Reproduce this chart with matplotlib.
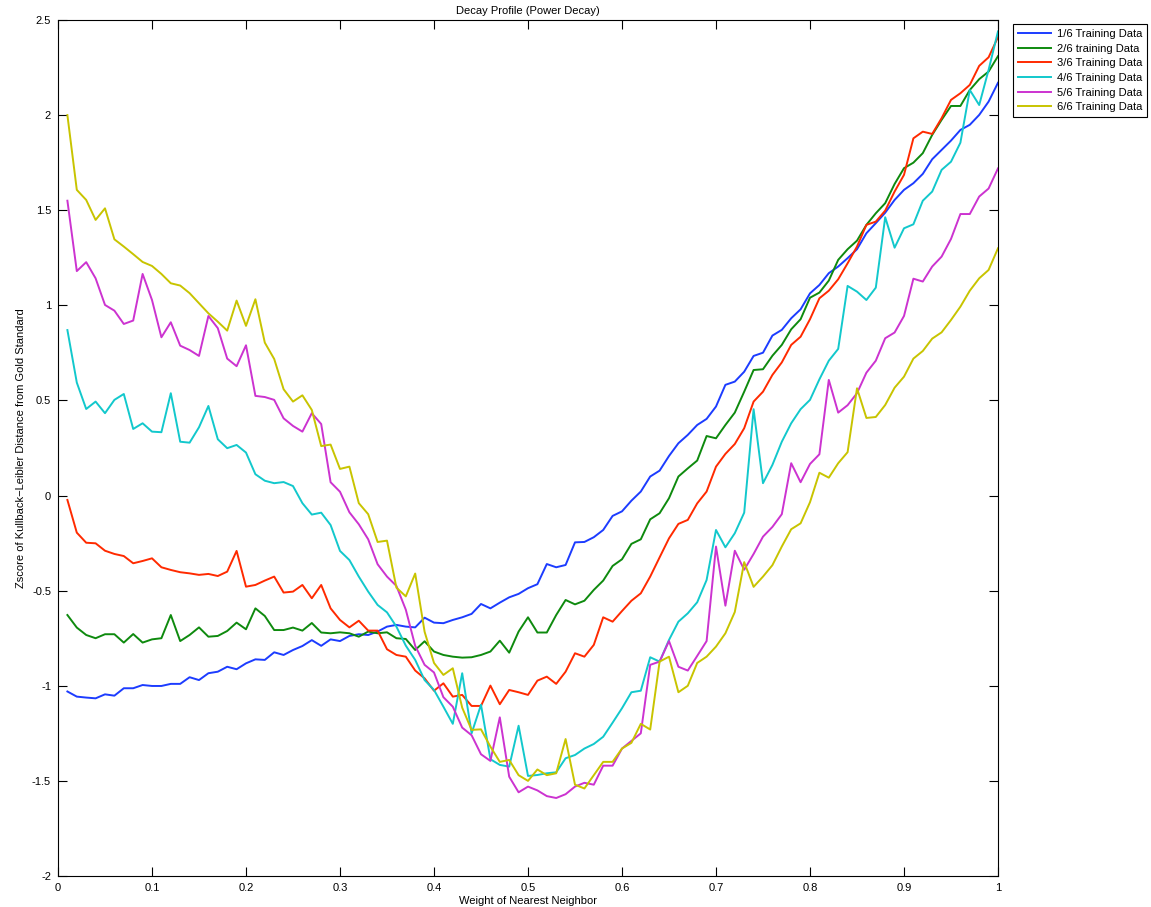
import numpy as np
import matplotlib
matplotlib.use("Agg")
import matplotlib.pyplot as plt

plt.rcParams['font.family'] = ['Liberation Sans', 'DejaVu Sans']

# weight of nearest neighbour, 0.01 .. 1.00
weights = np.round(np.linspace(0.01, 1.0, 100), 2)

labels = ['1/6 Training Data', '2/6 training Data', '3/6 Training Data',
          '4/6 Training Data', '5/6 Training Data', '6/6 Training Data']

frac_1of6 = [
    -1.03, -1.057, -1.062, -1.066, -1.045, -1.052, -1.013, -1.013, -0.996, -1.001,
    -1.001, -0.99, -0.99, -0.955, -0.97, -0.934, -0.926, -0.90, -0.913, -0.882,
    -0.861, -0.864, -0.824, -0.838, -0.812, -0.791, -0.76, -0.79, -0.756, -0.765,
    -0.738, -0.729, -0.733, -0.715, -0.689, -0.68, -0.689, -0.693, -0.642, -0.668,
    -0.671, -0.654, -0.64, -0.622, -0.57, -0.593, -0.563, -0.535, -0.517, -0.487,
    -0.466, -0.36, -0.377, -0.365, -0.246, -0.244, -0.219, -0.181, -0.107, -0.083,
    -0.027, 0.021, 0.10, 0.131, 0.208, 0.275, 0.319, 0.371, 0.403, 0.468,
    0.582, 0.599, 0.651, 0.734, 0.751, 0.841, 0.871, 0.932, 0.979, 1.063,
    1.107, 1.169, 1.204, 1.248, 1.295, 1.379, 1.432, 1.487, 1.554, 1.607,
    1.642, 1.691, 1.768, 1.817, 1.866, 1.922, 1.949, 2.001, 2.071, 2.17]

frac_2of6 = [
    -0.628, -0.694, -0.733, -0.75, -0.729, -0.729, -0.773, -0.728, -0.773, -0.756,
    -0.75, -0.628, -0.765, -0.733, -0.693, -0.742, -0.738, -0.712, -0.668, -0.703,
    -0.593, -0.633, -0.707, -0.707, -0.694, -0.71, -0.67, -0.72, -0.724, -0.719,
    -0.724, -0.742, -0.715, -0.724, -0.719, -0.75, -0.754, -0.812, -0.766, -0.82,
    -0.838, -0.847, -0.852, -0.85, -0.838, -0.82, -0.763, -0.826, -0.715, -0.64,
    -0.72, -0.72, -0.628, -0.549, -0.572, -0.553, -0.496, -0.447, -0.37, -0.335,
    -0.254, -0.23, -0.125, -0.093, -0.014, 0.10, 0.143, 0.184, 0.313, 0.301,
    0.371, 0.436, 0.546, 0.66, 0.664, 0.735, 0.792, 0.874, 0.927, 1.04,
    1.067, 1.13, 1.239, 1.295, 1.34, 1.423, 1.484, 1.537, 1.638, 1.721,
    1.75, 1.80, 1.896, 1.975, 2.048, 2.048, 2.132, 2.189, 2.229, 2.31]

frac_3of6 = [
    -0.023, -0.195, -0.248, -0.251, -0.29, -0.307, -0.318, -0.356, -0.344, -0.33,
    -0.377, -0.391, -0.403, -0.409, -0.417, -0.412, -0.423, -0.40, -0.291, -0.479,
    -0.47, -0.447, -0.426, -0.51, -0.505, -0.47, -0.54, -0.47, -0.593, -0.654,
    -0.693, -0.658, -0.71, -0.71, -0.808, -0.838, -0.847, -0.92, -0.961, -1.026,
    -0.987, -1.057, -1.048, -1.106, -1.106, -0.999, -1.097, -1.022, -1.034, -1.048,
    -0.973, -0.952, -0.99, -0.926, -0.829, -0.847, -0.785, -0.64, -0.663, -0.607,
    -0.553, -0.514, -0.426, -0.325, -0.225, -0.149, -0.128, -0.041, 0.021, 0.152,
    0.219, 0.271, 0.354, 0.494, 0.546, 0.634, 0.70, 0.792, 0.835, 0.927,
    1.037, 1.077, 1.137, 1.221, 1.309, 1.423, 1.44, 1.498, 1.598, 1.686,
    1.878, 1.913, 1.901, 1.984, 2.08, 2.115, 2.159, 2.259, 2.304, 2.41]

frac_4of6 = [
    0.87, 0.594, 0.455, 0.494, 0.433, 0.503, 0.534, 0.35, 0.38, 0.336,
    0.333, 0.538, 0.283, 0.278, 0.359, 0.471, 0.296, 0.249, 0.266, 0.226,
    0.112, 0.078, 0.065, 0.071, 0.05, -0.04, -0.10, -0.09, -0.155, -0.291,
    -0.339, -0.426, -0.505, -0.575, -0.614, -0.689, -0.789, -0.864, -0.97, -1.022,
    -1.11, -1.20, -0.934, -1.25, -1.10, -1.386, -1.416, -1.425, -1.21, -1.474,
    -1.469, -1.46, -1.455, -1.381, -1.364, -1.33, -1.306, -1.268, -1.194, -1.118,
    -1.034, -1.026, -0.85, -0.873, -0.759, -0.663, -0.619, -0.561, -0.444, -0.181,
    -0.272, -0.198, -0.09, 0.454, 0.065, 0.161, 0.283, 0.38, 0.454, 0.503,
    0.611, 0.709, 0.771, 1.102, 1.072, 1.028, 1.093, 1.463, 1.303, 1.405,
    1.426, 1.55, 1.598, 1.712, 1.755, 1.855, 2.132, 2.053, 2.238, 2.44]

frac_5of6 = [
    1.55, 1.18, 1.227, 1.142, 1.002, 0.972, 0.902, 0.92, 1.165, 1.028,
    0.832, 0.911, 0.788, 0.765, 0.734, 0.944, 0.88, 0.72, 0.68, 0.79,
    0.524, 0.518, 0.503, 0.406, 0.366, 0.336, 0.433, 0.376, 0.07, 0.02,
    -0.088, -0.151, -0.23, -0.361, -0.426, -0.475, -0.60, -0.79, -0.89, -0.93,
    -1.06, -1.11, -1.22, -1.26, -1.36, -1.395, -1.166, -1.478, -1.56, -1.53,
    -1.55, -1.58, -1.59, -1.57, -1.53, -1.51, -1.52, -1.42, -1.42, -1.33,
    -1.29, -1.25, -0.89, -0.873, -0.765, -0.90, -0.92, -0.843, -0.765, -0.268,
    -0.579, -0.29, -0.39, -0.307, -0.216, -0.165, -0.098, 0.17, 0.07, 0.166,
    0.217, 0.608, 0.436, 0.475, 0.538, 0.646, 0.709, 0.827, 0.857, 0.944,
    1.14, 1.125, 1.204, 1.256, 1.349, 1.48, 1.48, 1.572, 1.614, 1.72]

frac_6of6 = [
    2.0, 1.607, 1.554, 1.449, 1.51, 1.347, 1.309, 1.269, 1.228, 1.207,
    1.165, 1.116, 1.104, 1.064, 1.011, 0.958, 0.914, 0.867, 1.025, 0.892,
    1.032, 0.804, 0.718, 0.559, 0.494, 0.527, 0.45, 0.26, 0.268, 0.14,
    0.152, -0.04, -0.098, -0.244, -0.237, -0.484, -0.53, -0.41, -0.716, -0.88,
    -0.943, -0.908, -1.115, -1.232, -1.229, -1.32, -1.40, -1.39, -1.47, -1.50,
    -1.44, -1.47, -1.46, -1.28, -1.52, -1.54, -1.47, -1.40, -1.40, -1.33,
    -1.30, -1.20, -1.23, -0.873, -0.847, -1.034, -1.0, -0.88, -0.847, -0.794,
    -0.724, -0.612, -0.35, -0.48, -0.426, -0.366, -0.268, -0.177, -0.146, -0.035,
    0.12, 0.094, 0.17, 0.228, 0.564, 0.408, 0.413, 0.476, 0.567, 0.625,
    0.72, 0.76, 0.825, 0.858, 0.923, 0.993, 1.077, 1.142, 1.186, 1.30]

series = [frac_1of6, frac_2of6, frac_3of6, frac_4of6, frac_5of6, frac_6of6]
colors = ['#1c3cff', '#0e8a0e', '#ff2a00', '#12c8cc', '#cc33d0', '#c8c400']

fig = plt.figure(figsize=(11.51, 9.07), dpi=100)
ax = fig.add_axes([58 / 1151, 31 / 907, 940 / 1151, 856 / 907])

for vals, col, lab in zip(series, colors, labels):
    ax.plot(weights, vals, color=col, lw=1.4, label=lab)

ax.set_xlim(0, 1)
ax.set_ylim(-2, 2.5)
xt = [0, 0.1, 0.2, 0.3, 0.4, 0.5, 0.6, 0.7, 0.8, 0.9, 1]
yt = [-2, -1.5, -1, -0.5, 0, 0.5, 1, 1.5, 2, 2.5]
ax.set_xticks(xt)
ax.set_xticklabels(['0', '0.1', '0.2', '0.3', '0.4', '0.5', '0.6', '0.7', '0.8', '0.9', '1'])
ax.set_yticks(yt)
ax.set_yticklabels(['-2', '-1.5', '-1', '-0.5', '0', '0.5', '1', '1.5', '2', '2.5'])
ax.tick_params(direction='in', top=True, right=True, length=6.5, width=0.8,
               labelsize=8, pad=5)
for sp in ax.spines.values():
    sp.set_linewidth(0.8)

ax.set_title('Decay Profile (Power Decay)', fontsize=8, pad=4)
ax.set_xlabel('Weight of Nearest Neighbor', fontsize=8, labelpad=2)
ax.set_ylabel('Zscore of Kullback\u2212Leibler Distance from Gold Standard', fontsize=8, labelpad=4)

leg = ax.legend(loc='upper right', bbox_to_anchor=(1147 / 1151, 1 - 24 / 907),
                bbox_transform=fig.transFigure, borderaxespad=0, fontsize=8,
                handlelength=2.9, handletextpad=0.55, labelspacing=0.42,
                borderpad=0.45, fancybox=False, framealpha=1)
leg.get_frame().set_edgecolor('black')
leg.get_frame().set_linewidth(0.8)

fig.savefig('out.png', dpi=100)
